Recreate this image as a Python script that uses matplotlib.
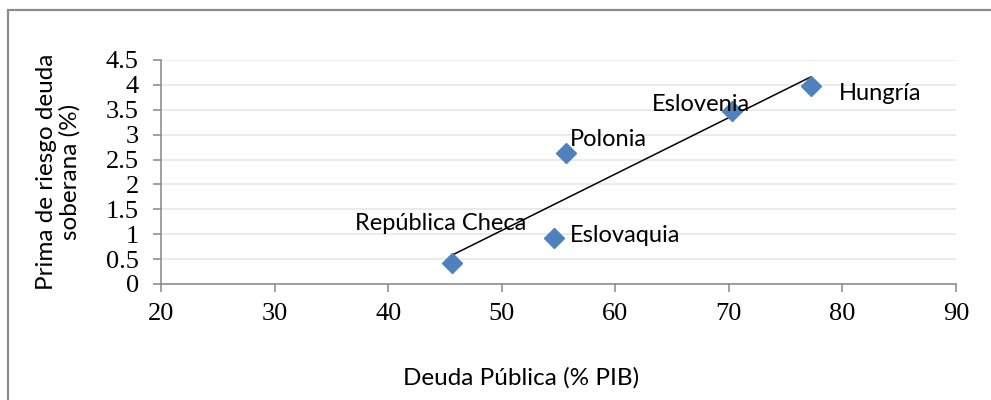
import numpy as np
import matplotlib
matplotlib.use("Agg")
import matplotlib.pyplot as plt
from matplotlib.patches import Rectangle

# Public debt (% of GDP) vs. sovereign debt risk premium (%)
countries = ["República Checa", "Eslovaquia", "Polonia", "Eslovenia", "Hungría"]
deuda_publica = [45.6, 54.6, 55.7, 70.3, 77.2]
prima_riesgo = [0.42, 0.92, 2.63, 3.48, 3.98]

x_ticks = [20, 30, 40, 50, 60, 70, 80, 90]
y_ticks = [0, 0.5, 1, 1.5, 2, 2.5, 3, 3.5, 4, 4.5]
y_tick_labels = ["0", "0.5", "1", "1.5", "2", "2.5", "3", "3.5", "4", "4.5"]

# label placement relative to each marker, in pixels (dx, dy)
label_offsets = [(-97, 33), (16, -4), (3, 7), (-80, 0), (28, -14)]

sans = ["Lato", "DejaVu Sans"]
serif = ["Liberation Serif", "DejaVu Serif"]
marker_color = "#4F81BD"
axis_color = "#868686"
grid_color = "#E6E6E6"

W, H = 991, 400
fig = plt.figure(figsize=(W / 100, H / 100), dpi=100)
ax = fig.add_axes([161 / W, 1 - 284 / H, (956 - 161) / W, (284 - 60) / H])

# outer chart frame (runs off the right and bottom edges)
fig.patches.append(Rectangle((8 / W, -0.05), 1.1, 1 - 10 / H + 0.05,
                             transform=fig.transFigure, fill=False,
                             edgecolor="#8C8C8C", linewidth=1.6))

ax.set_xlim(20, 90)
ax.set_ylim(0, 4.5)
ax.set_xticks(x_ticks)
ax.set_yticks(y_ticks)
ax.set_xticklabels([str(t) for t in x_ticks], fontfamily=serif, fontsize=19)
ax.set_yticklabels(y_tick_labels, fontfamily=serif, fontsize=19)
ax.tick_params(axis="both", colors=axis_color, labelcolor="black",
               length=6, width=1.1)
ax.tick_params(axis="y", pad=10)
ax.tick_params(axis="x", pad=8)

for side in ("top", "right"):
    ax.spines[side].set_visible(False)
for side in ("left", "bottom"):
    ax.spines[side].set_color(axis_color)
    ax.spines[side].set_linewidth(1.1)

ax.yaxis.grid(True, color=grid_color, linewidth=1.1)
ax.set_axisbelow(True)

# linear trend line over the observed range
coef = np.polyfit(deuda_publica, prima_riesgo, 1)
xr = np.array([min(deuda_publica), max(deuda_publica)])
ax.plot(xr, np.polyval(coef, xr), color="black", linewidth=1.1, zorder=2)

ax.plot(deuda_publica, prima_riesgo, linestyle="none", marker="D",
        markersize=10, color=marker_color, markeredgecolor=marker_color,
        zorder=3)

for name, x, y, (dx, dy) in zip(countries, deuda_publica, prima_riesgo, label_offsets):
    ax.annotate(name, (x, y), xytext=(dx, dy), textcoords="offset pixels",
                ha="left", va="baseline", fontfamily=sans, fontsize=17,
                color="black", zorder=4)

fig.text(521 / W, 1 - 378 / H, "Deuda Pública (% PIB)", fontfamily=sans,
         fontsize=17.5, ha="center", va="center")
fig.text(58.5 / W, 1 - 172 / H, "Prima de riesgo deuda\nsoberana (%)",
         fontfamily=sans, fontsize=17.5, rotation=90, ha="center",
         va="center", multialignment="center", linespacing=1.1)

fig.savefig("out.png", dpi=100)
